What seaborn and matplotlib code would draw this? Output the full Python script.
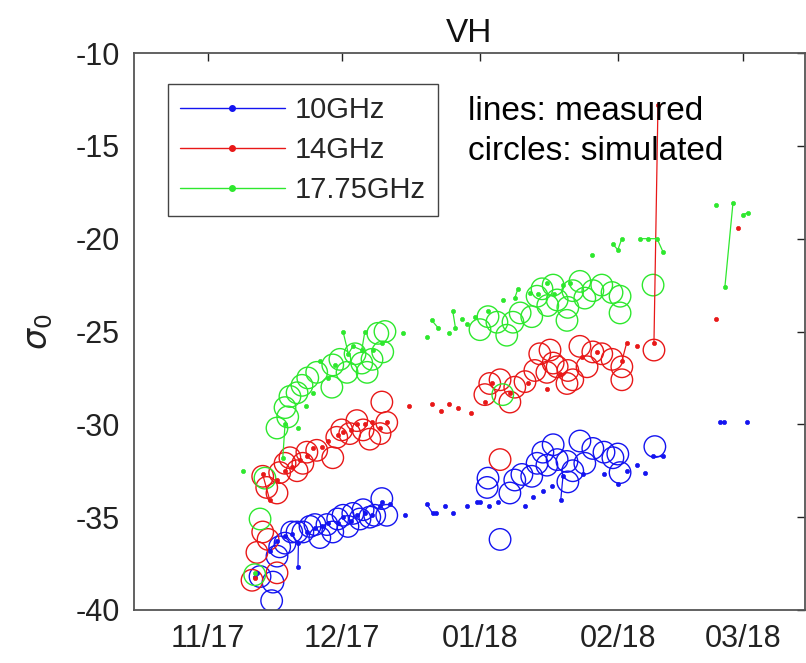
import numpy as np
import pandas as pd
import matplotlib
matplotlib.use("Agg")
import matplotlib.pyplot as plt
import matplotlib.dates as mdates
from matplotlib.lines import Line2D
import seaborn as sns

NA = np.nan
T0 = pd.Timestamp("2017-11-01")

# ---------------- data (days after 2017-11-01, sigma0 in dB) ----------------
labels = ["10GHz", "14GHz", "17.75GHz"]
colors = ["#1414F0", "#E81818", "#2EE82E"]

# measured (NaN = break in line)
m10_day = [10.5, 11.0, NA, 13.9, 15.5, NA, 17.3, NA, 18.8, NA, 20.2, 20.3, NA, 22.2, NA, 24.0, NA,
           25.6, NA, 27.0, NA, 29.1, NA, 30.3, NA, 32.0, NA, 33.4, NA, 35.2, NA, 36.8, NA, 38.6, 39.0, NA,
           40.8, NA, 44.2, NA, 49.1, 50.4, 51.1, NA, 53.1, NA, 54.9, NA, 58.1, NA, 60.3, 61.0, NA, 63.0, NA,
           65.0, NA, 71.1, NA, 72.9, NA, 75.1, NA, 77.1, NA, 79.1, 79.6, NA, 84.1, NA, 88.8, NA, 91.9, NA,
           93.9, NA, 96.2, NA, 98.0, NA, 99.8, 102.0, NA, 114.8, 115.7, NA, 120.9]
m10_val = [-38.2, -38.0, NA, -36.8, -36.3, NA, -36.0, NA, -35.9, NA, -37.7, -36.4, NA, -35.8, NA, -35.6, NA,
           -35.5, NA, -35.3, NA, -35.3, NA, -35.0, NA, -35.2, NA, -34.9, NA, -34.8, NA, -34.9, NA, -34.4, -34.2, NA,
           -34.3, NA, -34.9, NA, -34.3, -34.8, -34.8, NA, -34.4, NA, -34.8, NA, -34.4, NA, -34.2, -34.2, NA, -34.4, NA,
           -34.2, NA, -34.4, NA, -33.9, NA, -33.6, NA, -33.3, NA, -34.1, -32.8, NA, -32.7, NA, -32.7, NA, -33.2, NA,
           -32.5, NA, -32.2, NA, -32.6, NA, -31.7, -31.7, NA, -29.9, -29.9, NA, -29.9]

m14_day = [10.5, NA, 12.3, 13.9, NA, 15.5, NA, 17.3, NA, 18.8, NA, 20.6, NA, 22.2, NA, 23.5, NA, 25.6, NA,
           27.0, NA, 29.1, NA, 30.3, NA, 32.0, NA, 33.4, NA, 35.2, NA, 36.8, NA, 38.6, NA, 40.1, NA, 45.1, NA,
           50.2, NA, 52.2, NA, 54.0, NA, 56.1, NA, 59.0, NA, 62.1, NA, 63.7, NA, 67.7, NA, 71.7, NA, 76.0, NA,
           79.0, NA, 83.9, NA, 87.2, NA, 92.8, 93.9, NA, 96.2, NA, 100.0, 100.9, NA, 113.9, NA, 118.8]
m14_val = [-38.3, NA, -32.7, -34.1, NA, -33.0, NA, -32.5, NA, -32.3, NA, -31.9, NA, -31.7, NA, -31.3, NA, -31.2, NA,
           -30.9, NA, -30.6, NA, -30.4, NA, -30.3, NA, -30.0, NA, -30.0, NA, -29.9, NA, -30.2, NA, -29.9, NA, -29.0, NA,
           -28.9, NA, -29.3, NA, -28.9, NA, -29.1, NA, -29.4, NA, -28.8, NA, -27.8, NA, -28.3, NA, -27.8, NA, -28.1, NA,
           -27.3, NA, -26.4, NA, -26.1, NA, -26.6, -25.6, NA, -25.8, NA, -25.6, -12.8, NA, -24.3, NA, -19.4]

m17_day = [7.8, NA, 10.5, NA, 16.8, 17.3, NA, 20.2, NA, 22.0, NA, 23.5, NA, 25.1, NA, 27.0, NA, 28.5, NA,
           30.3, 31.5, 32.5, 34.5, 35.2, NA, 37.0, NA, 39.0, NA, 43.7, NA, 49.1, NA, 50.2, 51.6, NA, 54.0, NA,
           54.9, 55.5, NA, 57.0, NA, 58.1, NA, 59.9, NA, 62.8, NA, 66.1, NA, 68.8, 69.5, NA, 72.2, NA, 74.0, NA,
           76.0, NA, 77.5, NA, 79.6, NA, 81.2, NA, 86.1, NA, 90.8, 91.9, 92.8, NA, 96.9, 98.7, 100.7, 102.0, NA,
           113.9, NA, 115.9, 117.7, NA, 120.0, 121.1]
m17_val = [-32.5, NA, -38.0, NA, -31.8, -30.0, NA, -30.2, NA, -29.0, NA, -28.3, NA, -26.6, NA, -27.5, NA, -26.8, NA,
           -25.0, -26.2, -25.8, -26.0, -25.0, NA, -26.0, NA, -25.6, NA, -25.1, NA, -25.3, NA, -24.4, -24.8, NA, -25.1, NA,
           -23.9, -24.8, NA, -24.3, NA, -24.6, NA, -24.2, NA, -23.9, NA, -23.3, NA, -23.2, -22.7, NA, -22.9, NA, -23.0, NA,
           -22.4, NA, -23.0, NA, -22.5, NA, -22.4, NA, -20.9, NA, -20.3, -20.6, -20.0, NA, -20.0, -20.0, -20.0, -20.7, NA,
           -18.2, NA, -22.6, -18.1, NA, -18.7, -18.6]

# simulated (circles)
s10_day = [11.7, 14.3, 14.6, 15.5, 16.1, 17.3, 18.8, 20.0, 21.3, 22.9, 24.0, 25.1, 26.7, 28.0, 29.1, 30.3,
           31.4, 32.5, 34.1, 34.8, 36.3, 37.4, 39.0, 40.1,
           62.6, 62.8, 65.5, 67.7, 68.8, 70.4, 72.6, 73.8, 75.1, 76.0, 77.4, 78.3, 80.5, 80.7, 81.8, 83.4,
           84.5, 86.3, 88.8, 90.8, 91.9, 92.4, 100.2]
s10_val = [-38.2, -39.5, -38.5, -37.1, -36.6, -36.4, -35.8, -35.8, -35.8, -35.5, -35.4, -36.1, -35.4, -35.8, -35.1, -34.9,
           -35.5, -34.8, -35.1, -34.6, -35.0, -34.9, -34.0, -34.9,
           -33.4, -32.9, -36.2, -33.7, -33.0, -32.7, -32.8, -32.1, -31.5, -32.2, -31.1, -31.9, -32.0, -33.1, -32.5, -30.9,
           -32.1, -31.3, -31.5, -31.8, -31.6, -32.6, -31.2]

s14_day = [9.9, 11.0, 12.3, 13.5, 15.5, 12.3, 13.2, 15.5, 16.1, 17.3, 18.4, 20.0, 21.3, 22.2, 24.4, 28.0,
           28.9, 30.0, 31.8, 33.4, 34.8, 36.3, 38.6, 40.1, 39.0,
           62.1, 63.2, 65.5, 65.5, 67.7, 68.8, 71.1, 73.3, 74.4, 76.0, 76.7, 77.4, 78.3, 80.5, 80.7, 81.8,
           83.4, 85.0, 86.3, 88.3, 90.6, 92.8, 92.8, 100.0]
s14_val = [-38.4, -36.9, -35.8, -36.2, -38.0, -32.8, -33.4, -33.7, -32.6, -32.1, -31.8, -32.5, -32.1, -31.5, -31.4, -31.8,
           -30.7, -30.3, -30.5, -29.8, -30.3, -30.8, -30.5, -29.9, -28.8,
           -28.4, -27.8, -27.6, -31.9, -28.8, -28.0, -27.7, -27.1, -26.2, -27.2, -26.0, -26.7, -26.9, -27.8, -27.1, -27.6,
           -25.8, -26.9, -26.1, -26.2, -26.5, -26.9, -27.6, -26.0]

s17_day = [10.5, 11.7, 12.8, 15.5, 17.3, 17.9, 18.4, 20.0, 21.1, 22.4, 24.4, 27.8, 28.0, 29.6, 31.2, 33.0,
           34.5, 35.7, 36.8, 38.1, 39.2, 39.7,
           61.0, 62.8, 64.8, 66.1, 67.0, 68.4, 70.0, 72.6, 73.8, 74.9, 76.2, 77.4, 78.3, 80.5, 80.7, 81.8,
           83.4, 84.5, 86.3, 88.3, 90.6, 92.4, 92.4, 99.8]
s17_val = [-38.1, -35.1, -32.9, -30.2, -29.1, -29.6, -28.5, -28.3, -27.9, -27.5, -27.2, -28.0, -26.8, -26.5, -27.2, -26.2,
           -26.7, -27.2, -26.5, -25.1, -26.1, -25.0,
           -24.9, -24.2, -24.5, -28.4, -25.2, -24.5, -24.0, -24.2, -23.1, -22.7, -23.6, -22.5, -23.3, -24.4, -23.7, -22.8,
           -22.3, -23.2, -22.8, -22.5, -22.9, -23.1, -24.0, -22.5]

measured = [(m10_day, m10_val), (m14_day, m14_val), (m17_day, m17_val)]
simulated = [(s10_day, s10_val), (s14_day, s14_val), (s17_day, s17_val)]


def to_dates(days):
    return T0 + pd.to_timedelta(np.asarray(days, dtype=float), unit="D")


# ---------------- plotting ----------------
sns.set_theme(style="white")
plt.rcParams["font.family"] = ["Liberation Sans", "DejaVu Sans"]
plt.rcParams["axes.edgecolor"] = "#444444"
plt.rcParams["axes.unicode_minus"] = False

fig = plt.figure(figsize=(8.06, 6.63), dpi=100)
ax = fig.add_axes([0.166, 0.080, 0.833, 0.840])

for (sd, sv), c in zip(simulated, colors):
    sns.scatterplot(x=to_dates(sd), y=np.asarray(sv), marker="o", s=240,
                    facecolor="none", edgecolor=c, linewidth=1.0, ax=ax, legend=False, zorder=2)

for (md, mv), c in zip(measured, colors):
    v = np.asarray(mv, dtype=float)
    seg = np.cumsum(np.isnan(v))
    df = pd.DataFrame({"date": to_dates(md), "val": v, "seg": seg}).dropna()
    sns.lineplot(data=df, x="date", y="val", units="seg", estimator=None, sort=False,
                 color=c, linewidth=0.9, marker="o", markersize=3.0,
                 markeredgecolor=c, markeredgewidth=0.5, ax=ax, legend=False, zorder=3)

ax.set_xlim(T0 - pd.Timedelta(days=16.6), T0 + pd.Timedelta(days=133.9))
ax.set_ylim(-40, -10)
ax.set_yticks([-40, -35, -30, -25, -20, -15, -10])
ticks = pd.to_datetime(["2017-11-01", "2017-12-01", "2018-01-01", "2018-02-01", "2018-03-01"])
ax.set_xticks(ticks)
ax.xaxis.set_major_formatter(mdates.DateFormatter("%m/%y"))
ax.tick_params(direction="in", length=6, width=1, top=True, right=True,
               labelsize=22, colors="#222222", pad=10)
ax.tick_params(axis="x", pad=10)
for sp in ax.spines.values():
    sp.set_linewidth(1.3)
    sp.set_color("#555555")

ax.set_xlabel("")
ax.set_ylabel(r"$\sigma_0$", fontsize=24, color="#222222")
ax.yaxis.set_label_coords(-0.118, 0.5)
ax.set_title("VH", fontsize=24, color="#111111", pad=8)

handles = [Line2D([], [], color=c, lw=1.0, marker="o", markersize=4, markeredgecolor=c)
           for c in colors]
leg = ax.legend(handles, labels, loc="upper left", bbox_to_anchor=(0.051, 0.944),
                borderaxespad=0, fontsize=21, handlelength=3.6, handletextpad=0.35,
                labelspacing=0.42, borderpad=0.4, fancybox=False, framealpha=1)
leg.get_frame().set_edgecolor("#444444")
leg.get_frame().set_linewidth(1.0)

ax.text(0.498, 0.895, "lines: measured", transform=ax.transAxes, fontsize=24,
        color="black", ha="left", va="center")
ax.text(0.498, 0.823, "circles: simulated", transform=ax.transAxes, fontsize=24,
        color="black", ha="left", va="center")

fig.savefig("out.png", dpi=100)
